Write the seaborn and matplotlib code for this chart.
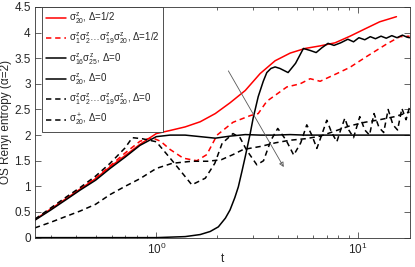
import numpy as np
import pandas as pd
import seaborn as sns
import matplotlib
matplotlib.use('Agg')
import matplotlib.pyplot as plt

# ---- data ----
t_red = [0.25, 0.3, 0.36, 0.42, 0.5, 0.59, 0.7, 0.83, 1.0, 1.17, 1.39, 1.65, 1.96, 2.32,
         2.76, 3.27, 3.88, 4.61, 5.46, 6.48, 7.69, 9.13, 10.8, 12.8, 15.5]
y_red = [0.35, 0.56, 0.77, 0.95, 1.15, 1.38, 1.6, 1.82, 2.03, 2.09, 2.16, 2.26, 2.42, 2.63,
         2.87, 3.2, 3.45, 3.6, 3.69, 3.74, 3.8, 3.93, 4.07, 4.21, 4.31]

t_red_d = [0.25, 0.3, 0.36, 0.42, 0.5, 0.59, 0.7, 0.83, 0.95, 1.05, 1.17, 1.36, 1.59, 1.78,
           2.0, 2.4, 2.92, 3.2, 3.53, 4.44, 5.16, 5.79, 6.49, 7.85, 9.1, 11.0, 13.9, 16.1, 18.0]
y_red_d = [0.35, 0.56, 0.77, 0.95, 1.16, 1.4, 1.65, 1.88, 1.95, 1.88, 1.72, 1.55, 1.5, 1.62,
           2.0, 2.25, 2.38, 2.42, 2.66, 2.94, 3.0, 3.1, 3.05, 3.2, 3.32, 3.53, 3.78, 3.92, 3.93]

t_pair = [0.25, 0.6, 1.0, 1.39, 1.65, 1.85, 2.03, 2.2, 2.32, 2.45, 2.55, 2.66, 2.76, 2.92,
          3.02, 3.2, 3.39, 3.53, 3.7, 3.88, 4.1, 4.5, 4.9, 5.36, 5.8, 6.2, 6.6, 7.1, 7.6,
          8.2, 8.9, 9.5, 10.1, 10.8, 11.5, 12.2, 13.0, 13.8, 14.7, 15.6, 16.6, 17.5, 18.0]
y_pair = [0.0, 0.0, 0.0, 0.02, 0.06, 0.12, 0.21, 0.38, 0.54, 0.78, 0.99, 1.3, 1.58, 2.03,
          2.33, 2.75, 3.05, 3.22, 3.3, 3.33, 3.3, 3.22, 3.4, 3.69, 3.65, 3.61, 3.7, 3.79, 3.75,
          3.8, 3.87, 3.82, 3.9, 3.86, 3.92, 3.88, 3.93, 3.89, 3.94, 3.9, 3.95, 3.91, 3.9]

t_single = [0.25, 0.3, 0.36, 0.42, 0.5, 0.59, 0.7, 0.83, 1.0, 1.17, 1.39, 1.65, 1.96, 2.32,
            2.76, 3.27, 3.88, 4.61, 5.46, 6.48, 7.69, 9.13, 10.8, 12.8, 15.2, 18.0]
y_single = [0.34, 0.54, 0.75, 0.93, 1.12, 1.35, 1.57, 1.8, 1.97, 2.0, 2.0, 1.97, 1.94, 1.98,
            2.01, 2.0, 2.0, 2.01, 2.0, 2.0, 2.0, 2.0, 2.0, 2.0, 2.0, 2.0]

t_string = [0.25, 0.3, 0.36, 0.42, 0.5, 0.59, 0.7, 0.76, 0.85, 1.0, 1.2, 1.5, 1.75, 1.95,
            2.12, 2.4, 2.6, 2.8, 3.15, 3.4, 3.7, 4.0, 4.4, 4.8, 5.2, 5.57, 5.9, 6.25, 6.6,
            7.0, 7.4, 7.85, 8.2, 8.6, 9.0, 9.5, 10.2, 10.8, 11.4, 12.0, 12.7, 13.4, 14.1,
            14.9, 15.7, 16.5, 17.3, 18.0]
y_string = [0.36, 0.58, 0.8, 0.98, 1.2, 1.45, 1.75, 1.95, 1.93, 1.87, 1.5, 1.03, 1.16, 1.45,
            1.84, 2.03, 1.95, 1.71, 1.42, 1.5, 1.9, 2.13, 1.9, 1.61, 1.85, 2.2, 2.0, 1.74, 2.0,
            2.29, 2.05, 1.87, 2.1, 2.33, 2.1, 1.95, 2.36, 2.1, 2.0, 2.42, 2.15, 2.05, 2.5,
            2.2, 2.1, 2.52, 2.3, 2.55]

t_plus = [0.25, 0.3, 0.36, 0.42, 0.5, 0.59, 0.7, 0.83, 1.0, 1.2, 1.5, 1.8, 2.1, 2.4, 2.7,
          3.3, 3.9, 4.6, 5.5, 6.5, 7.7, 9.1, 10.8, 12.8, 15.2, 18.0]
y_plus = [0.19, 0.3, 0.42, 0.52, 0.65, 0.84, 1.0, 1.15, 1.35, 1.45, 1.49, 1.49, 1.52, 1.62,
          1.72, 1.78, 1.85, 1.9, 1.93, 1.98, 2.08, 2.18, 2.25, 2.3, 2.36, 2.45]

labels = [r'$\sigma^z_{20}$, $\Delta$=1/2',
          r'$\sigma^z_1\sigma^z_2\ldots\sigma^z_{19}\sigma^z_{20}$, $\Delta$=1/2',
          r'$\sigma^z_{16}\sigma^z_{25}$, $\Delta$=0',
          r'$\sigma^z_{20}$, $\Delta$=0',
          r'$\sigma^z_1\sigma^z_2\ldots\sigma^z_{19}\sigma^z_{20}$, $\Delta$=0',
          r'$\sigma^+_{20}$, $\Delta$=0']

arrow_start = (2.24, 3.3)
arrow_end = (4.35, 1.33)

# ---- plot ----
sns.set_style('ticks')
plt.rcParams['font.family'] = ['Liberation Sans', 'DejaVu Sans']
plt.rcParams['mathtext.fontset'] = 'custom'
plt.rcParams['mathtext.rm'] = 'Liberation Sans'
plt.rcParams['mathtext.it'] = 'Liberation Sans'
plt.rcParams['mathtext.sf'] = 'Liberation Sans'

fig = plt.figure(figsize=(4.15, 2.67), dpi=100)
ax = fig.add_axes([0.084, 0.110, 0.904, 0.864])

dash = (0, (3.5, 2.5))
series = [
    (t_red, y_red, 'red', '-'),
    (t_red_d, y_red_d, 'red', dash),
    (t_pair, y_pair, 'black', '-'),
    (t_single, y_single, 'black', '-'),
    (t_string, y_string, 'black', dash),
    (t_plus, y_plus, 'black', dash),
]
for (tx, yy, col, ls), lab in zip(series, labels):
    sns.lineplot(x=tx, y=yy, ax=ax, color=col, linestyle=ls, linewidth=1.1,
                 label=lab, sort=False, estimator=None)

ax.annotate('', xy=arrow_end, xytext=arrow_start,
            arrowprops=dict(arrowstyle='-|>', color='0.35', lw=0.6,
                            mutation_scale=7, fill=False))

ax.set_xscale('log')
ax.set_xlim(0.25, 18.1)
ax.set_ylim(0, 4.5)
ax.set_yticks(np.arange(0, 4.51, 0.5))
ax.set_yticklabels(['0', '0.5', '1', '1.5', '2', '2.5', '3', '3.5', '4', '4.5'])
ax.tick_params(which='both', direction='in', top=True, right=True, labelsize=8.5,
               width=0.5, pad=3)
ax.tick_params(which='major', length=4)
ax.tick_params(which='minor', length=2)
for sp in ax.spines.values():
    sp.set_linewidth(0.6)
    sp.set_color('0.2')

ax.set_xlabel('t', fontsize=8.5)
ax.xaxis.set_label_coords(0.5, -0.065)
ax.set_ylabel('OS Renyi entropy (α=2)', fontsize=8.5)
ax.yaxis.set_label_coords(-0.062, 0.5)

leg = ax.legend(loc='upper left', bbox_to_anchor=(0.02, 0.998), fontsize=7,
                frameon=True, fancybox=False, edgecolor='0.2', framealpha=1,
                handlelength=2.1, handletextpad=0.3, labelspacing=0.5,
                borderpad=0.35, borderaxespad=0)
leg.get_frame().set_linewidth(0.6)

fig.savefig('out.png', dpi=100)
